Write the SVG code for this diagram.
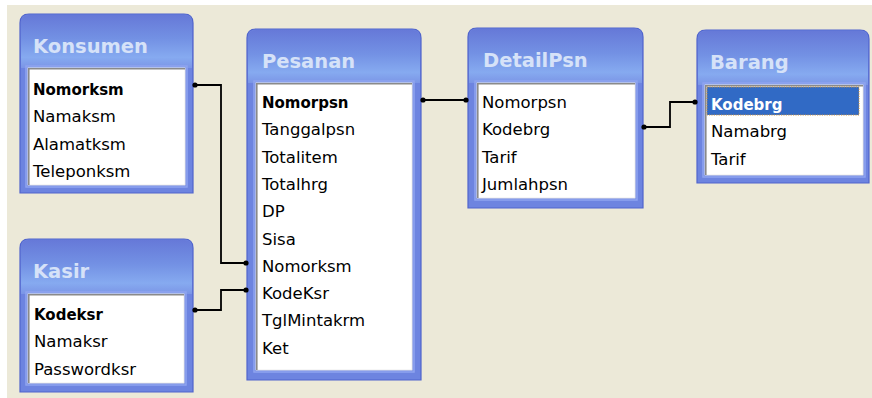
<svg xmlns="http://www.w3.org/2000/svg" width="872" height="398" viewBox="0 0 872 398">
<defs>
<linearGradient id="bandGrad" x1="0" y1="0" x2="0" y2="1">
<stop offset="0" stop-color="#6679D8"/>
<stop offset="0.45" stop-color="#7391E4"/>
<stop offset="0.8" stop-color="#86AAF0"/>
<stop offset="1" stop-color="#7B95E6"/>
</linearGradient>
<style>
.frame{fill:#6D84E0;stroke:#5064CC;stroke-width:1.2}
.band{fill:url(#bandGrad)}
.edge{fill:none;stroke:#8FA4F0;stroke-width:1.5}
.list{fill:#FFFFFF;stroke:#ECECEC;stroke-width:1}
.sunk{fill:none;stroke:#8A8A8A;stroke-width:1.6}
.title{font-family:"DejaVu Sans",sans-serif;font-weight:bold;font-size:19.5px;fill:#D6E2F8}
.row{font-family:"DejaVu Sans",sans-serif;font-size:16.5px;fill:#000000}
.bold{font-weight:bold;font-size:15px}
.sel{fill:#FFFFFF}
.conn{fill:none;stroke:#000000;stroke-width:1.8}
.dot{fill:#000000}
</style>
</defs>
<rect x="0" y="0" width="872" height="398" fill="#FFFFFF"/>
<rect x="7" y="5" width="865" height="393" fill="#ECE9D8"/>

<g id="konsumen">
<path class="frame" d="M20,193 V23 Q20,14 29,14 H184 Q193,14 193,23 V193 Z"/>
<path class="band" d="M21,68 V23 Q21,15 29,15 H184 Q192,15 192,23 V68 Z"/>
<rect class="edge" x="26" y="66" width="161" height="121"/>
<rect class="list" x="28" y="68" width="157" height="117"/>
<path class="sunk" d="M28.8,185 V68.8 H185"/>
<text class="title" x="33" y="53">Konsumen</text>
<text class="row bold" x="33" y="95">Nomorksm</text>
<text class="row" x="33" y="122.3">Namaksm</text>
<text class="row" x="33" y="149.6">Alamatksm</text>
<text class="row" x="33" y="176.9">Teleponksm</text>
</g>

<g id="kasir">
<path class="frame" d="M20,392 V248 Q20,239 29,239 H184 Q193,239 193,248 V392 Z"/>
<path class="band" d="M21,294 V248 Q21,240 29,240 H184 Q192,240 192,248 V294 Z"/>
<rect class="edge" x="26" y="292" width="160" height="93"/>
<rect class="list" x="28" y="294" width="156" height="89"/>
<path class="sunk" d="M28.8,383 V294.8 H184"/>
<text class="title" x="33" y="278">Kasir</text>
<text class="row bold" x="34" y="320">Kodeksr</text>
<text class="row" x="34" y="347.3">Namaksr</text>
<text class="row" x="34" y="374.6">Passwordksr</text>
</g>

<g id="pesanan">
<path class="frame" d="M247,380 V38 Q247,29 256,29 H412 Q421,29 421,38 V380 Z"/>
<path class="band" d="M248,83 V38 Q248,30 256,30 H412 Q420,30 420,38 V83 Z"/>
<rect class="edge" x="254" y="81" width="160" height="291"/>
<rect class="list" x="256" y="83" width="156" height="287"/>
<path class="sunk" d="M256.8,370 V83.8 H412"/>
<text class="title" x="262" y="68">Pesanan</text>
<text class="row bold" x="262" y="108">Nomorpsn</text>
<text class="row" x="262" y="135.3">Tanggalpsn</text>
<text class="row" x="262" y="162.6">Totalitem</text>
<text class="row" x="262" y="189.9">Totalhrg</text>
<text class="row" x="262" y="217.2">DP</text>
<text class="row" x="262" y="244.5">Sisa</text>
<text class="row" x="262" y="271.8">Nomorksm</text>
<text class="row" x="262" y="299.1">KodeKsr</text>
<text class="row" x="262" y="326.4">TglMintakrm</text>
<text class="row" x="262" y="353.7">Ket</text>
</g>

<g id="detailpsn">
<path class="frame" d="M468,208 V37 Q468,28 477,28 H634 Q643,28 643,37 V208 Z"/>
<path class="band" d="M469,83 V37 Q469,29 477,29 H634 Q642,29 642,37 V83 Z"/>
<rect class="edge" x="475" y="81" width="162" height="119"/>
<rect class="list" x="477" y="83" width="158" height="115"/>
<path class="sunk" d="M477.8,198 V83.8 H635"/>
<text class="title" x="483" y="67">DetailPsn</text>
<text class="row" x="482" y="108">Nomorpsn</text>
<text class="row" x="482" y="135.3">Kodebrg</text>
<text class="row" x="482" y="162.6">Tarif</text>
<text class="row" x="482" y="189.9">Jumlahpsn</text>
</g>

<g id="barang">
<path class="frame" d="M697,183 V39 Q697,30 706,30 H860 Q869,30 869,39 V183 Z"/>
<path class="band" d="M698,85 V39 Q698,31 706,31 H860 Q868,31 868,39 V85 Z"/>
<rect class="edge" x="703" y="83" width="162" height="94"/>
<rect class="list" x="705" y="85" width="158" height="90"/>
<path class="sunk" d="M705.8,175 V85.8 H863"/>
<rect x="707" y="87" width="152" height="28" fill="#316AC5" stroke="#C89040" stroke-width="1" stroke-dasharray="1.2,1.2"/>
<text class="title" x="710" y="69">Barang</text>
<text class="row bold sel" x="711" y="110">Kodebrg</text>
<text class="row" x="711" y="137.3">Namabrg</text>
<text class="row" x="711" y="164.6">Tarif</text>
</g>

<g id="connectors">
<polyline class="conn" points="194,85 221,85 221,263 246,263"/>
<polyline class="conn" points="194,310 221,310 221,290 246,290"/>
<polyline class="conn" points="422,100 467,100"/>
<polyline class="conn" points="643,127 670,127 670,102 696,102"/>
<circle class="dot" cx="195" cy="85" r="2.6"/>
<circle class="dot" cx="246" cy="263" r="2.6"/>
<circle class="dot" cx="195" cy="310" r="2.6"/>
<circle class="dot" cx="246" cy="290" r="2.6"/>
<circle class="dot" cx="423" cy="100" r="2.6"/>
<circle class="dot" cx="466" cy="100" r="2.6"/>
<circle class="dot" cx="644" cy="127" r="2.6"/>
<circle class="dot" cx="695" cy="102" r="2.6"/>
</g>
</svg>
